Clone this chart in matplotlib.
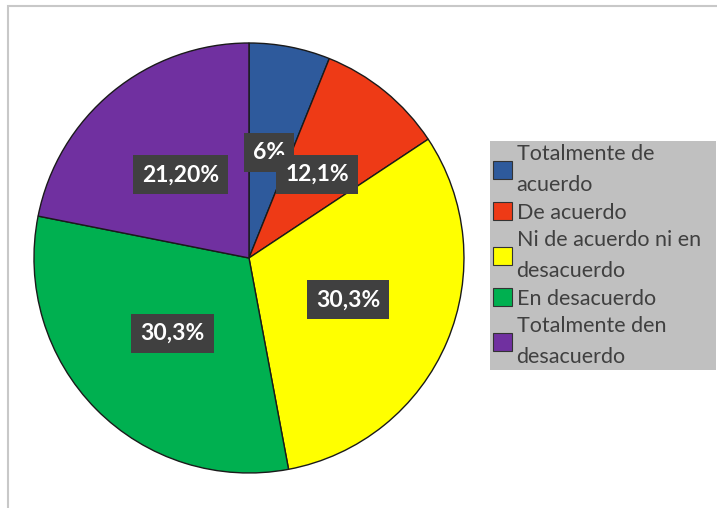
import matplotlib.pyplot as plt
from matplotlib.patches import Rectangle, Patch

# Datos
categorias = ["Totalmente de\nacuerdo", "De acuerdo", "Ni de acuerdo ni en\ndesacuerdo",
              "En desacuerdo", "Totalmente den\ndesacuerdo"]
valores = [6.1, 9.6, 31.4, 31.1, 21.9]   # tamaño de los sectores tal como se ven
etiquetas = ["6%", "12,1%", "30,3%", "30,3%", "21,20%"]
colores = ["#2E5A9C", "#EE3A16", "#FFFF00", "#00B050", "#7030A0"]

plt.rcParams['font.family'] = ['Lato', 'DejaVu Sans']

fig = plt.figure(figsize=(7.17, 5.08), dpi=100)
ax = fig.add_axes([0.0474, 0.0689, 0.5997, 0.8465])

wedges, textos = ax.pie(valores, labels=etiquetas, colors=colores, startangle=90,
                        counterclock=False, labeldistance=0.5,
                        wedgeprops=dict(edgecolor="#1a1a1a", linewidth=1))
for t in textos:
    t.set_ha("center")
    t.set_va("center")
    t.set_color("white")
    t.set_fontsize(16.5)
    t.set_fontweight("bold")
    t.set_bbox(dict(facecolor="#404040", edgecolor="none", pad=6.5))
ax.set_xlim(-1, 1)
ax.set_ylim(-1, 1)
ax.set_aspect("equal")

# Leyenda
handles = [Patch(facecolor=c, edgecolor="#333333", linewidth=0.8) for c in colores]
leg = fig.legend(handles, categorias, loc="upper left", bbox_to_anchor=(0.683, 0.0, 0.315, 0.722),
                 mode="expand", fontsize=15.5, frameon=True, fancybox=False, handlelength=0.9,
                 handleheight=0.9, handletextpad=0.2, labelspacing=0.35,
                 borderpad=0.15, borderaxespad=0)
leg.get_frame().set_facecolor("#C0C0C0")
leg.get_frame().set_edgecolor("none")
leg.get_frame().set_alpha(1)
for t in leg.get_texts():
    t.set_color("#404040")
    t.set_linespacing(1.65)

# Marco
fig.add_artist(Rectangle((0.011, -0.1), 1.2, 1.088, transform=fig.transFigure,
                         facecolor="none", edgecolor="#C8C8C8", linewidth=1.5))

fig.savefig("out.png", dpi=100)
